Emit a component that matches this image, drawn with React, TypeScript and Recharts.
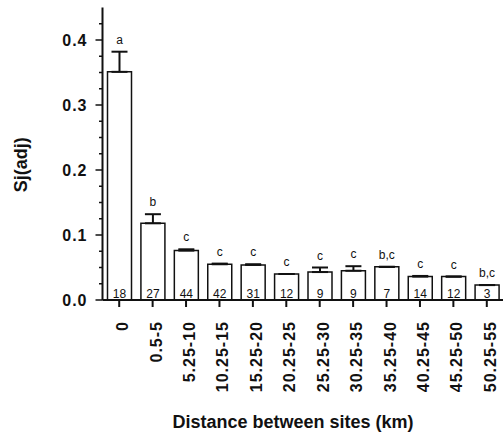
import React from 'react';
import { BarChart, Bar, XAxis, YAxis, ErrorBar, LabelList, Label } from 'recharts';

const categories = ['0', '0.5-5', '5.25-10', '10.25-15', '15.25-20', '20.25-25', '25.25-30', '30.25-35', '35.25-40', '40.25-45', '45.25-50', '50.25-55'];
const sjValues = [0.351, 0.118, 0.076, 0.055, 0.054, 0.04, 0.043, 0.045, 0.051, 0.036, 0.036, 0.023];
const errors = [0.031, 0.014, 0.002, 0.001, 0.001, 0, 0.007, 0.007, 0, 0.001, 0, 0];
const groupLetters = ['a', 'b', 'c', 'c', 'c', 'c', 'c', 'c', 'b,c', 'c', 'c', 'b,c'];
const counts = [18, 27, 44, 42, 31, 12, 9, 9, 7, 14, 12, 3];
const yTicks = [0, 0.025, 0.05, 0.075, 0.1, 0.125, 0.15, 0.175, 0.2, 0.225, 0.25, 0.275, 0.3, 0.325, 0.35, 0.375, 0.4, 0.425];
const yMajorLabels = ['0.0', '0.1', '0.2', '0.3', '0.4'];

const data = categories.map((c, i) => ({
  cat: c,
  sj: sjValues[i],
  errRange: [0, errors[i]],
  grp: groupLetters[i],
  n: counts[i],
}));

const FONT = '"Liberation Sans", Arial, Helvetica, sans-serif';
const INK = '#111';

const box = (p: any) => {
  const vb = p.viewBox && p.viewBox.width !== undefined ? p.viewBox : p;
  return { x: Number(vb.x), y: Number(vb.y), width: Number(vb.width), height: Number(vb.height) };
};

const XTick = (props: any) => {
  const { x, y, payload } = props;
  const bx = x + 9;
  const by = y + 12;
  return (
    <text x={bx} y={by} transform={`rotate(-90, ${bx}, ${by})`} textAnchor="end" fontSize={16} fontWeight="bold" fontFamily={FONT} fill={INK} letterSpacing={1}>
      {payload.value}
    </text>
  );
};

const YTick = (props: any) => {
  const { x, y, payload, index } = props;
  let v = payload && payload.value !== undefined ? Number(payload.value) : NaN;
  if (!isFinite(v)) v = yTicks[index];
  const step = Math.round(v / 0.025);
  const major = step % 4 === 0;
  const label = major ? yMajorLabels[step / 4] : null;
  const axisX = x + 15;
  return (
    <g>
      <line x1={axisX - (major ? 7 : 3.5)} x2={axisX} y1={y} y2={y} stroke={INK} strokeWidth={1.5} />
      {label && (
        <text x={x} y={y} dy="0.36em" textAnchor="end" fontSize={16} fontWeight="bold" fontFamily={FONT} fill={INK} letterSpacing={1}>
          {label}
        </text>
      )}
    </g>
  );
};

const CountLabel = (props: any) => {
  const b = box(props);
  return (
    <text x={b.x + b.width / 2} y={b.y + b.height - 2.5} textAnchor="middle" fontSize={12} fontFamily={FONT} fill={INK}>
      {props.value}
    </text>
  );
};

const GroupLabel = (props: any) => {
  const b = box(props);
  const i = props.index;
  const errPx = sjValues[i] > 0 ? (errors[i] * b.height) / sjValues[i] : 0;
  return (
    <text x={b.x + b.width / 2} y={b.y - errPx - 8} textAnchor="middle" fontSize={12} fontFamily={FONT} fill={INK}>
      {props.value}
    </text>
  );
};

const XTitle = (props: any) => {
  const vb = props.viewBox;
  return (
    <text x={vb.x + vb.width / 2 - 10} y={vb.y + 128} textAnchor="middle" fontSize={18} fontWeight="bold" fontFamily={FONT} fill={INK}>
      Distance between sites (km)
    </text>
  );
};

const YTitle = (props: any) => {
  const vb = props.viewBox;
  const tx = vb.x + 27;
  const ty = vb.y + vb.height / 2 + 11;
  return (
    <text x={tx} y={ty} transform={`rotate(-90, ${tx}, ${ty})`} textAnchor="middle" fontSize={18} fontWeight="bold" fontFamily={FONT} fill={INK}>
      Sj(adj)
    </text>
  );
};

export default function App() {
  return (
    <div style={{ position: 'absolute', left: 0, top: 0, width: 503, height: 433, overflow: 'hidden', background: '#fff' }}>
      <BarChart width={510} height={433} data={data} margin={{ top: 7.5, right: 6.5, bottom: 0, left: 0 }}>
        <XAxis
          dataKey="cat"
          type="category"
          height={133}
          interval={0}
          tickSize={7}
          tickLine={{ stroke: INK, strokeWidth: 2 }}
          axisLine={{ stroke: INK, strokeWidth: 2 }}
          tick={(p: any) => <XTick {...p} />}
          label={<Label content={XTitle} />}
        />
        <YAxis
          type="number"
          domain={[0, 0.45]}
          ticks={yTicks}
          interval={0}
          width={102.5}
          tickSize={7}
          tickMargin={8}
          tickLine={false}
          axisLine={{ stroke: INK, strokeWidth: 2 }}
          tick={(p: any) => <YTick {...p} />}
          allowDataOverflow
          label={<Label content={YTitle} />}
        />
        <Bar dataKey="sj" fill="#fff" stroke={INK} strokeWidth={1.5} barSize={24} isAnimationActive={false}>
          <ErrorBar dataKey="errRange" width={8} stroke={INK} strokeWidth={2} direction="y" />
          <LabelList dataKey="n" content={CountLabel} />
          <LabelList dataKey="grp" content={GroupLabel} />
        </Bar>
      </BarChart>
    </div>
  );
}
